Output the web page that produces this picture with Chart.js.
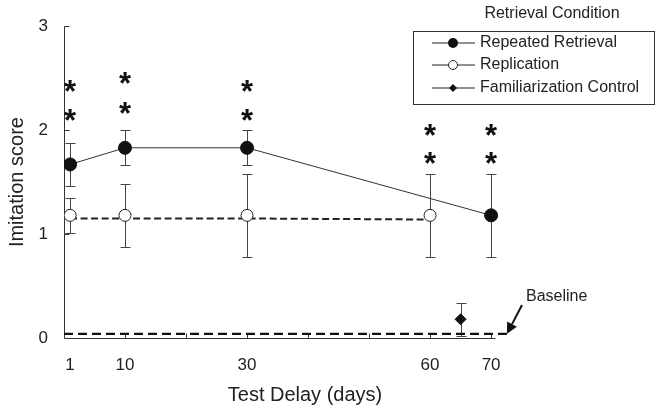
<!DOCTYPE html>
<html>
<head>
<meta charset="utf-8">
<title>Imitation score by test delay</title>
<script src="https://cdn.jsdelivr.net/npm/chart.js@4.4.1/dist/chart.umd.min.js"></script>
<style>
  html, body { margin: 0; padding: 0; background: #fff; }
  #wrap { width: 656px; height: 412px; }
</style>
</head>
<body>
<div id="wrap"><canvas id="chart" width="656" height="412"></canvas></div>
<script>
// Values
const xTickDays = [1, 10, 30, 60, 70];
const xMinorTicks = [10, 20, 30, 40, 50, 60, 70];
const yTicks = [0, 1, 2, 3];

const repeatedDays = [1, 10, 30, 70];
const repeatedMean = [1.67, 1.83, 1.83, 1.18];
const repeatedErr = [0.21, 0.17, 0.17, 0.40];

const replicationDays = [1, 10, 30, 60];
const replicationMean = [1.18, 1.18, 1.18, 1.18];
const replicationErr = [0.17, 0.30, 0.40, 0.40];
const replicationTrend = [1.15, 1.15, 1.15, 1.14];

const familiarDays = [65];
const familiarMean = [0.18];
const familiarErr = [0.16];

const baselineDays = [0, 72.6];
const baselineScore = [0.04, 0.04];

const starDays = [1, 10, 30, 60, 70];
const starLow = [2.11, 2.17, 2.11, 1.69, 1.69];
const starHigh = [2.39, 2.46, 2.39, 1.96, 1.96];

const legendTitle = 'Retrieval Condition';
const legendLabels = ['Repeated Retrieval', 'Replication', 'Familiarization Control'];

const FONT = "'Liberation Sans', Arial, sans-serif";
const INK = '#222';
const AXIS_END = 70.7; // x-axis line stops short of the baseline arrow

Chart.defaults.font.family = FONT;
Chart.defaults.color = INK;

const pts = (xs, ys) => xs.map((x, i) => ({ x: x, y: ys[i] }));

function crisp(v) { return Math.round(v) + 0.5; }

function drawErrBars(ctx, xs, ys, days, means, errs) {
  const cap = 5;
  days.forEach((d, i) => {
    const x = crisp(xs.getPixelForValue(d));
    const y1 = crisp(ys.getPixelForValue(means[i] + errs[i]));
    const y2 = crisp(ys.getPixelForValue(means[i] - errs[i]));
    ctx.beginPath();
    ctx.moveTo(x, y1); ctx.lineTo(x, y2);
    ctx.moveTo(x - cap, y1); ctx.lineTo(x + cap, y1);
    ctx.moveTo(x - cap, y2); ctx.lineTo(x + cap, y2);
    ctx.stroke();
  });
}

// axes, inward ticks and error bars under the markers
const underlay = {
  id: 'underlay',
  beforeDatasetsDraw(chart) {
    const { ctx, scales: { x, y } } = chart;
    ctx.save();
    ctx.strokeStyle = '#333';
    ctx.lineWidth = 1;
    const x0 = crisp(x.getPixelForValue(0));
    const y0 = crisp(y.getPixelForValue(0));
    ctx.beginPath();
    ctx.moveTo(x0, crisp(y.getPixelForValue(3)));
    ctx.lineTo(x0, y0);
    ctx.lineTo(x.getPixelForValue(AXIS_END), y0);
    yTicks.slice(1).forEach(v => {
      const py = crisp(y.getPixelForValue(v));
      ctx.moveTo(x0, py); ctx.lineTo(x0 + 5, py);
    });
    xMinorTicks.forEach(v => {
      const px = crisp(x.getPixelForValue(v));
      ctx.moveTo(px, y0); ctx.lineTo(px, y0 - 5);
    });
    ctx.stroke();

    ctx.strokeStyle = '#444';
    drawErrBars(ctx, x, y, repeatedDays, repeatedMean, repeatedErr);
    drawErrBars(ctx, x, y, replicationDays, replicationMean, replicationErr);
    drawErrBars(ctx, x, y, familiarDays, familiarMean, familiarErr);
    ctx.restore();
  }
};

// asterisks, legend box and the baseline callout
const overlay = {
  id: 'overlay',
  afterDraw(chart) {
    const { ctx, scales: { x, y } } = chart;
    ctx.save();

    ctx.fillStyle = '#111';
    ctx.font = 'bold 31px ' + FONT;
    ctx.textAlign = 'center';
    ctx.textBaseline = 'alphabetic';
    const m = ctx.measureText('*');
    const shift = (m.actualBoundingBoxAscent - m.actualBoundingBoxDescent) / 2 - 4;
    starDays.forEach((d, i) => {
      const px = x.getPixelForValue(d);
      ctx.fillText('*', px, y.getPixelForValue(starLow[i]) + shift);
      ctx.fillText('*', px, y.getPixelForValue(starHigh[i]) + shift);
    });

    // legend
    ctx.fillStyle = INK;
    ctx.font = '16px ' + FONT;
    ctx.textBaseline = 'middle';
    ctx.fillText(legendTitle, 552, 14);
    ctx.strokeStyle = '#333';
    ctx.lineWidth = 1;
    ctx.strokeRect(413.5, 31.5, 241, 73);
    const rowY = [43, 65, 88];
    ctx.textAlign = 'left';
    legendLabels.forEach((label, i) => {
      const ly = rowY[i];
      ctx.beginPath();
      ctx.moveTo(432, ly); ctx.lineTo(475, ly);
      ctx.strokeStyle = '#222';
      ctx.stroke();
      ctx.beginPath();
      if (i === 0) {
        ctx.arc(453, ly, 5, 0, Math.PI * 2);
        ctx.fillStyle = '#111'; ctx.fill();
      } else if (i === 1) {
        ctx.arc(453, ly, 4.5, 0, Math.PI * 2);
        ctx.fillStyle = '#fff'; ctx.fill(); ctx.stroke();
      } else {
        ctx.moveTo(453, ly - 4); ctx.lineTo(457, ly); ctx.lineTo(453, ly + 4); ctx.lineTo(449, ly);
        ctx.closePath();
        ctx.fillStyle = '#111'; ctx.fill();
      }
      ctx.fillStyle = INK;
      ctx.fillText(label, 480, ly);
    });

    // baseline label and arrow
    ctx.fillText('Baseline', 526, 297);
    const tipX = x.getPixelForValue(baselineDays[1]);
    const tipY = y.getPixelForValue(baselineScore[1]);
    const sx = 522, sy = 305;
    const len = Math.hypot(tipX - sx, tipY - sy);
    const ux = (tipX - sx) / len, uy = (tipY - sy) / len;
    const bx = tipX - ux * 11, by = tipY - uy * 11;
    ctx.strokeStyle = '#111';
    ctx.lineWidth = 2;
    ctx.beginPath();
    ctx.moveTo(sx, sy); ctx.lineTo(bx, by);
    ctx.stroke();
    ctx.beginPath();
    ctx.moveTo(tipX, tipY);
    ctx.lineTo(bx - uy * 5.5, by + ux * 5.5);
    ctx.lineTo(bx + uy * 5.5, by - ux * 5.5);
    ctx.closePath();
    ctx.fillStyle = '#111';
    ctx.fill();

    ctx.restore();
  }
};

new Chart(document.getElementById('chart'), {
  type: 'scatter',
  data: {
    datasets: [
      {
        label: legendLabels[0],
        data: pts(repeatedDays, repeatedMean),
        showLine: true,
        borderColor: '#333',
        borderWidth: 1,
        pointRadius: 6.5,
        pointBackgroundColor: '#111',
        pointBorderColor: '#111'
      },
      {
        label: legendLabels[1],
        data: pts(replicationDays, replicationMean),
        showLine: false,
        pointRadius: 6,
        pointBackgroundColor: '#fff',
        pointBorderColor: '#222',
        pointBorderWidth: 1
      },
      {
        label: legendLabels[2],
        data: pts(familiarDays, familiarMean),
        showLine: false,
        pointStyle: 'rectRot',
        pointRadius: 5.5,
        pointBackgroundColor: '#111',
        pointBorderColor: '#111'
      },
      {
        label: 'Replication trend',
        data: pts(replicationDays, replicationTrend),
        showLine: true,
        borderColor: '#222',
        borderWidth: 2,
        borderDash: [7, 3.5],
        pointRadius: 0
      },
      {
        label: 'Baseline',
        data: pts(baselineDays, baselineScore),
        showLine: true,
        borderColor: '#111',
        borderWidth: 2.2,
        borderDash: [9, 5],
        pointRadius: 0
      }
    ]
  },
  options: {
    responsive: false,
    animation: false,
    devicePixelRatio: 1,
    layout: { padding: { top: 22.7, right: 110, left: 0, bottom: 0 } },
    plugins: {
      legend: { display: false },
      tooltip: { enabled: false }
    },
    scales: {
      x: {
        type: 'linear',
        min: 0,
        max: 79,
        afterBuildTicks: s => { s.ticks = xTickDays.map(v => ({ value: v })); },
        afterFit: s => { s.height = 74; },
        grid: { display: false, drawTicks: false },
        border: { display: false },
        ticks: { color: INK, font: { size: 17 }, padding: 17, maxRotation: 0, autoSkip: false },
        title: { display: true, text: 'Test Delay (days)', color: INK, font: { size: 20 }, padding: { top: 0, bottom: 5 } }
      },
      y: {
        min: 0,
        max: 3,
        afterBuildTicks: s => { s.ticks = yTicks.map(v => ({ value: v })); },
        afterFit: s => { s.width = 64; },
        grid: { display: false, drawTicks: false },
        border: { display: false },
        ticks: { color: INK, font: { size: 17 }, padding: 16 },
        title: { display: true, text: 'Imitation score', color: INK, font: { size: 20 }, padding: { top: 5, bottom: 0 } }
      }
    }
  },
  plugins: [underlay, overlay]
});
</script>
</body>
</html>
